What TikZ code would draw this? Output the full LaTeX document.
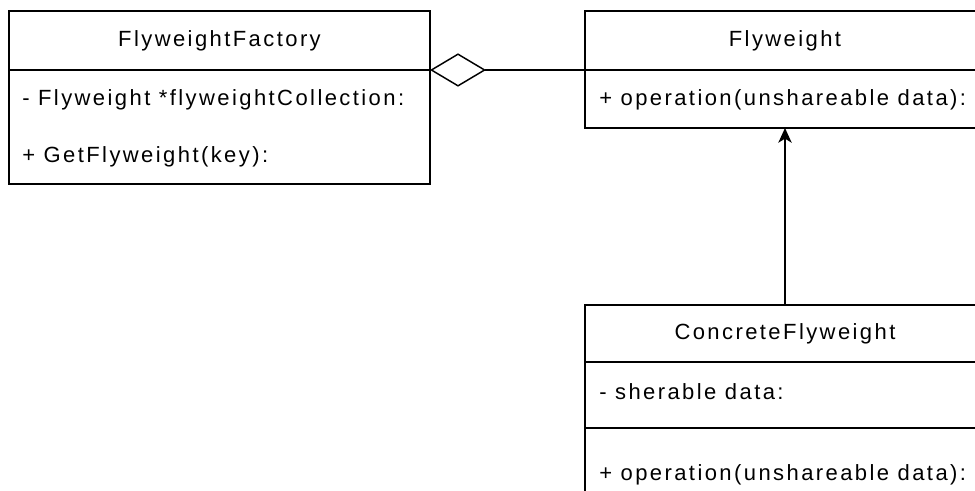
\documentclass[tikz,border=0pt]{standalone}
\usepackage{fontspec}
\setmainfont{Liberation Sans}[LetterSpace=11]
\usetikzlibrary{arrows.meta}

\tikzset{
  classname/.style={draw, line width=1.1pt, anchor=north west, inner sep=0pt, outer sep=0pt, font=\fontsize{16.5}{18}\selectfont},
  classbody/.style={draw, line width=1.1pt, anchor=north west, inner sep=0pt, outer sep=0pt},
  member/.style={anchor=west, inner sep=0pt, font=\fontsize{16.5}{18}\selectfont},
}

\begin{document}
\begin{tikzpicture}[x=0.75pt,y=0.75pt,yscale=-1]
\useasboundingbox (0,0) rectangle (975,490);
\clip (0,0) rectangle (975,490);

%Class: FlyweightFactory
\node [classname, minimum width=315.75pt, minimum height=44.25pt] (factory) at (9,11) {FlyweightFactory};
\node [classbody, minimum width=315.75pt, minimum height=85.5pt] (factorybody) at (factory.south west) {};
\node [member] (collection) at (22,100) {- Flyweight *flyweightCollection:};
\node [member] (getter) at (22,157) {+ GetFlyweight(key):};

%Class: Flyweight
\node [classname, minimum width=300pt, minimum height=44.25pt] (flyweight) at (585,11) {Flyweight};
\node [classbody, minimum width=300pt, minimum height=43.5pt] (flyweightbody) at (flyweight.south west) {};
\node [member] (operation) at (599,100) {+ operation(unshareable data):};

%Class: ConcreteFlyweight
\node [classname, minimum width=300pt, minimum height=42.75pt] (concrete) at (585,305) {ConcreteFlyweight};
\node [classbody, minimum width=300pt, minimum height=49.5pt] (concretedata) at (concrete.south west) {};
\node [classbody, minimum width=300pt, minimum height=60pt] (concreteops) at (concretedata.south west) {};
\node [member] (sherable) at (599,392) {- sherable data:};
\node [member] (concreteop) at (599,475) {+ operation(unshareable data):};

%Aggregation
\draw [line width=1.1pt, {Diamond[open, length=42pt, width=25pt]}-] (factory.south east) -- (flyweight.south west);
%Inheritance
\draw [line width=1.1pt, -{Stealth[length=11pt, width=10pt, inset=3pt]}] (concrete.north) -- (flyweightbody.south);
\end{tikzpicture}
\end{document}
